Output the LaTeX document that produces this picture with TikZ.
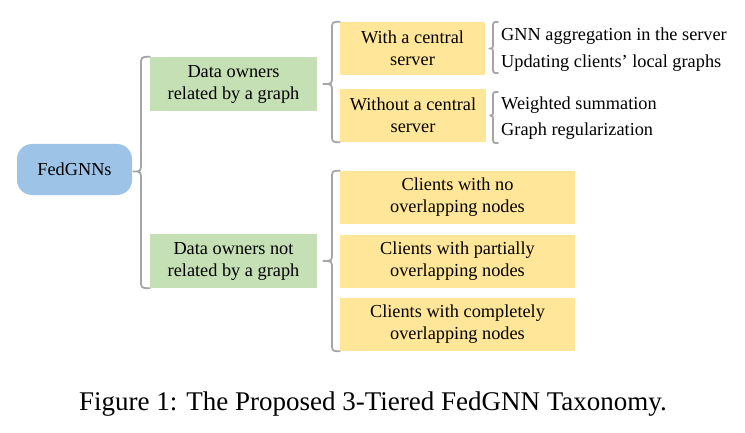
\documentclass[tikz,border=0pt]{standalone}
\usepackage{fontspec}
\setmainfont{Liberation Serif}
\usetikzlibrary{calc}
\definecolor{fedblue}{HTML}{9DC3E6}
\definecolor{boxgreen}{HTML}{C5E0B4}
\definecolor{boxyellow}{HTML}{FFE699}
\definecolor{bracegray}{HTML}{A6A6A6}
\tikzset{
  txt/.style={font=\fontsize{18.3}{22}\selectfont, align=center, inner sep=0pt},
  twoline/.style={execute at begin node={\vspace*{4.6pt}}},
  rootbox/.style={txt, fill=fedblue, rounded corners=15pt, minimum width=115pt, minimum height=51pt},
  greenbox/.style={txt, twoline, fill=boxgreen, minimum width=167pt, minimum height=54pt},
  ybox/.style={txt, twoline, fill=boxyellow, minimum height=53pt},
  leaf/.style={font=\fontsize{18.3}{22}\selectfont, anchor=west, inner sep=0pt},
  bracestyle/.style={draw=bracegray, line width=1.8pt, line cap=round, line join=round}
}
\begin{document}
\begin{tikzpicture}[x=1pt,y=1pt]
\useasboundingbox (0,0) rectangle (745,432);
\node[rootbox] (fed) at (74.5,262.5) {FedGNNs};
\node[greenbox] (g1) at (233.5,348) {Data owners\\related by a graph};
\node[greenbox] (g2) at (233.5,171) {Data owners not\\related by a graph};
\node[ybox, minimum width=145pt] (y1) at (412.5,383.5) {With a central\\server};
\node[ybox, minimum width=146pt] (y2) at (413,316.5) {Without a central\\server};
\node[ybox, minimum width=235pt] (y3) at (457.5,234.5) {Clients with no\\overlapping nodes};
\node[ybox, minimum width=235pt] (y4) at (457.5,170.5) {Clients with partially\\overlapping nodes};
\node[ybox, minimum width=235pt] (y5) at (457.5,107.5) {Clients with completely\\overlapping nodes};
\node[leaf] (l1) at (501,395.5) {GNN aggregation in the server};
\node[leaf] (l2) at (501,368.5) {Updating clients’ local graphs};
\node[leaf] (l3) at (501,326.5) {Weighted summation};
\node[leaf] (l4) at (501,300.5) {Graph regularization};
\node[font=\fontsize{27}{30}\selectfont, inner sep=0pt] (cap) at (373,28) {Figure 1: The Proposed 3-Tiered FedGNN Taxonomy.};
% braces
\def\drawbrace#1#2#3#4#5#6#7{%
  \draw[bracestyle] (#2,#3) .. controls (#1,#3) .. (#1,#3-#7)
    -- (#1,#6+#7) .. controls (#1,#6) .. (#5,#6)
    .. controls (#1,#6) .. (#1,#6-#7)
    -- (#1,#4+#7) .. controls (#1,#4) .. (#2,#4);}
\coordinate (t1) at ($(fed.east)+(1,-2)$);
\path let \p1=(t1), \p2=(g1.north west), \p3=(g2.south west) in
  \pgfextra{\xdef\Ta{\x1}\xdef\Tb{\y1}\xdef\Tc{\y2}\xdef\Td{\y3}\xdef\Te{\x2}};
\drawbrace{141}{\Te}{\Tc}{\Td}{\Ta}{\Tb}{9}
\path let \p1=(g1.east), \p2=(y1.north west), \p3=(y2.south west) in
  \pgfextra{\xdef\Ta{\x1}\xdef\Tb{\y1}\xdef\Tc{\y2}\xdef\Td{\y3}\xdef\Te{\x2}};
\drawbrace{332}{\Te}{\Tc}{\Td}{\Ta+6}{\Tb}{8}
\path let \p1=(g2.east), \p2=(y3.north west), \p3=(y5.south west) in
  \pgfextra{\xdef\Ta{\x1}\xdef\Tb{\y1}\xdef\Tc{\y2}\xdef\Td{\y3}\xdef\Te{\x2}};
\drawbrace{332}{\Te}{\Tc}{\Td}{\Ta+6}{\Tb}{8}
\path let \p1=(y1.east), \p2=(l1.west), \p3=(l2.west) in
  \pgfextra{\xdef\Ta{\x1}\xdef\Tb{\y1}\xdef\Tc{\y2+14.5}\xdef\Td{\y3-9.5}\xdef\Te{\x2-3}};
\drawbrace{493}{\Te}{\Tc}{\Td}{\Ta+4}{\Tb}{6}
\path let \p1=(y2.east), \p2=(l3.west), \p3=(l4.west) in
  \pgfextra{\xdef\Ta{\x1}\xdef\Tb{\y1}\xdef\Tc{\y2+13.5}\xdef\Td{\y3-11.5}\xdef\Te{\x2-3}};
\drawbrace{493}{\Te}{\Tc}{\Td}{\Ta+4}{\Tb}{6}
\end{tikzpicture}
\end{document}
